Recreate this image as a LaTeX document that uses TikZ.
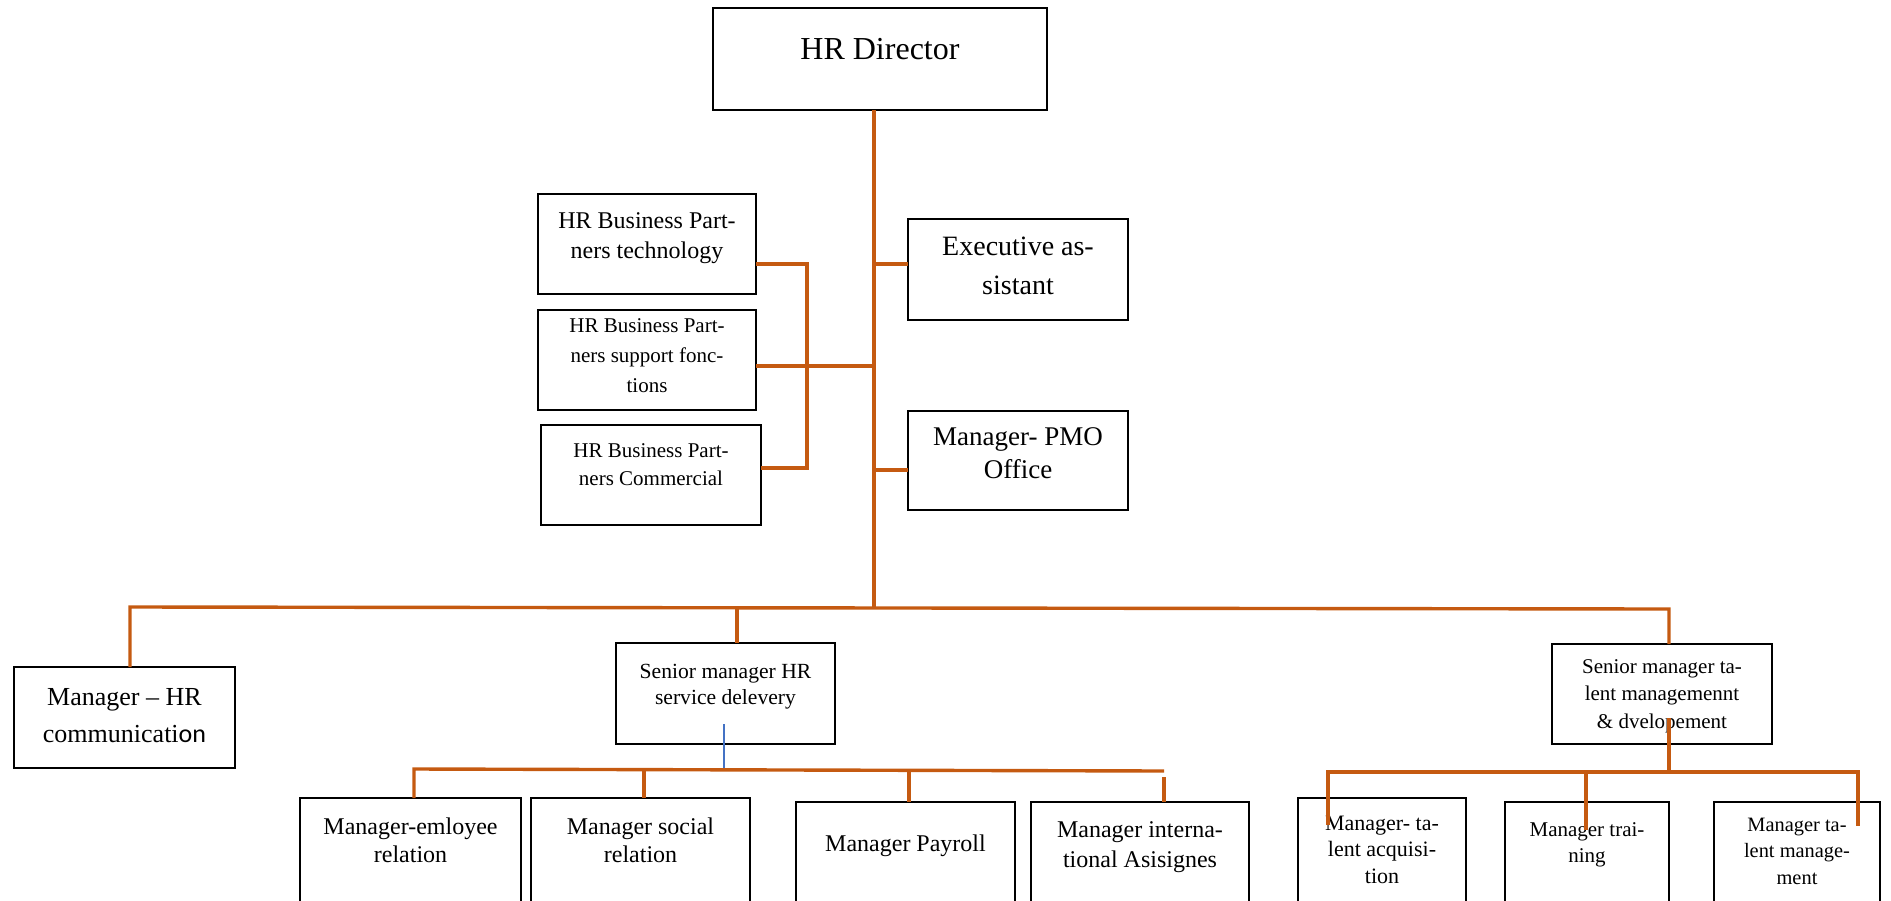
\documentclass[tikz,border=0pt]{standalone}
\usepackage{fontspec}
\setmainfont{Liberation Serif}
\newfontfamily\sansglyphs{Carlito}
\definecolor{conn}{RGB}{197,90,17}
\definecolor{thinblue}{RGB}{68,114,196}
% box content: fixed height, fixed width, first baseline offset, text
\newcommand\boxtext[4]{\parbox[c][#1][t]{#2}{\centering\rule{0pt}{#3}#4\par}}
\tikzset{
  box/.style={draw=black, line width=1.35pt, fill=white, inner sep=0pt, outer sep=0pt, anchor=north west},
  link/.style={draw=conn, line width=1.7pt},
  fs/.style 2 args={font=\fontsize{#1}{#2}\selectfont}
}
\begin{document}
\begin{tikzpicture}[x=0.5pt, y=-0.5pt]
\useasboundingbox (0,0) rectangle (1891,900);
\clip (0,0) rectangle (1891,900);

% top
\node[box, fs={16}{19}] (hrd) at (713,8) {\boxtext{51pt}{167pt}{25.5pt}{HR Director}};

% business partners
\node[box, fs={12}{15}] (bpt) at (538,194) {\boxtext{50pt}{109pt}{17pt}{HR Business Part-\\ners technology}};
\node[box, fs={10.5}{15.2}] (bps) at (538,310) {\boxtext{50pt}{109pt}{11pt}{HR Business Part-\\ners support fonc-\\tions}};
\node[box, fs={10.5}{14}] (bpc) at (541,425) {\boxtext{50pt}{110pt}{16pt}{HR Business Part-\\ners Commercial}};

% staff boxes
\node[box, fs={14}{19.5}] (exa) at (908,219) {\boxtext{50.5pt}{110pt}{18pt}{Executive as-\\sistant}};
\node[box, fs={13.5}{16.5}] (pmo) at (908,411) {\boxtext{49.5pt}{110pt}{17pt}{Manager- PMO\\Office}};

% second level
\node[box, fs={13}{18.5}] (mhc) at (14,667) {\boxtext{50.5pt}{110.5pt}{19pt}{Manager -- HR\\communicati{\sansglyphs on}}};
\node[box, fs={10.8}{13}] (shr) at (616,643) {\boxtext{50.5pt}{109.5pt}{17.75pt}{Senior manager HR\\service delevery}};
\node[box, fs={10.5}{13.75}] (stm) at (1552,644) {\boxtext{50pt}{110pt}{14.5pt}{Senior manager ta-\\lent managemennt\\\& dvelopement}};

% third level, service delivery
\node[box, fs={12}{14}] (mer) at (300,798) {\boxtext{56pt}{110.5pt}{18pt}{Manager-emloyee\\relation}};
\node[box, fs={12}{14}] (msr) at (531,798) {\boxtext{56pt}{109.5pt}{18pt}{Manager social\\relation}};
\node[box, fs={12}{14}] (mpr) at (796,802) {\boxtext{54pt}{109.5pt}{24.5pt}{Manager Payroll}};
\node[box, fs={12}{15}] (mia) at (1031,802) {\boxtext{54pt}{109pt}{17.5pt}{Manager interna-\\tional Asisignes}};

% third level, talent
\node[box, fs={11}{13.25}] (mta) at (1298,798) {\boxtext{56pt}{84pt}{16pt}{Manager- ta-\\lent acquisi-\\tion}};
\node[box, fs={10.5}{13}] (mtr) at (1505,802) {\boxtext{54pt}{82pt}{17pt}{Manager trai-\\ning}};
\node[box, fs={10.2}{13.25}] (mtm) at (1714,802) {\boxtext{54pt}{83pt}{14.5pt}{Manager ta-\\lent manage-\\ment}};

% trunk and staff links
\coordinate (j) at (874,608);
\draw[link] (j |- hrd.south) -- (j);
\draw[link] (j |- 0,264) -- (exa.west |- 0,264);
\draw[link] (j |- 0,470) -- (pmo.west |- 0,470);

% business partner bracket
\coordinate (br1) at (807,264);
\coordinate (br2) at (807,468);
\draw[link] (bpt.east |- br1) -- (br1) -- (br2) -- (bpc.east |- br2);
\draw[link] (bps.east |- 0,366) -- (j |- 0,366);

% main bus
\coordinate (bL) at (130,607);
\coordinate (bR) at (1669,609);
\coordinate (bS) at (737,608);
\draw[link] (mhc.north -| bL) -- (bL) -- (bR) -- (bR |- stm.north);
\draw[link] (bS) -- (bS |- shr.north);

% service delivery bus
\coordinate (c1) at (414,769);
\coordinate (c2) at (1164,771);
\coordinate (c3) at (644,770);
\coordinate (c4) at (909,770);
\coordinate (c5) at (1164,777);
\draw[thinblue, line width=0.6pt] (724,724) -- (724,769);
\draw[link] (mer.north -| c1) -- (c1) -- (c2);
\draw[link] (c3) -- (c3 |- msr.north);
\draw[link] (c4) -- (c4 |- mpr.north);
\draw[link] (c5) -- (c5 |- mia.north);

% talent bus
\coordinate (s0) at (1669,718);
\coordinate (s1) at (1669,772);
\coordinate (d1) at (1328,772);
\coordinate (d2) at (1858,772);
\coordinate (d3) at (1586,772);
\draw[link] (s0) -- (s1);
\draw[link] (d1 |- 0,825) -- (d1) -- (d2) -- (d2 |- 0,826);
\draw[link] (d3) -- (d3 |- 0,830);
\end{tikzpicture}
\end{document}
